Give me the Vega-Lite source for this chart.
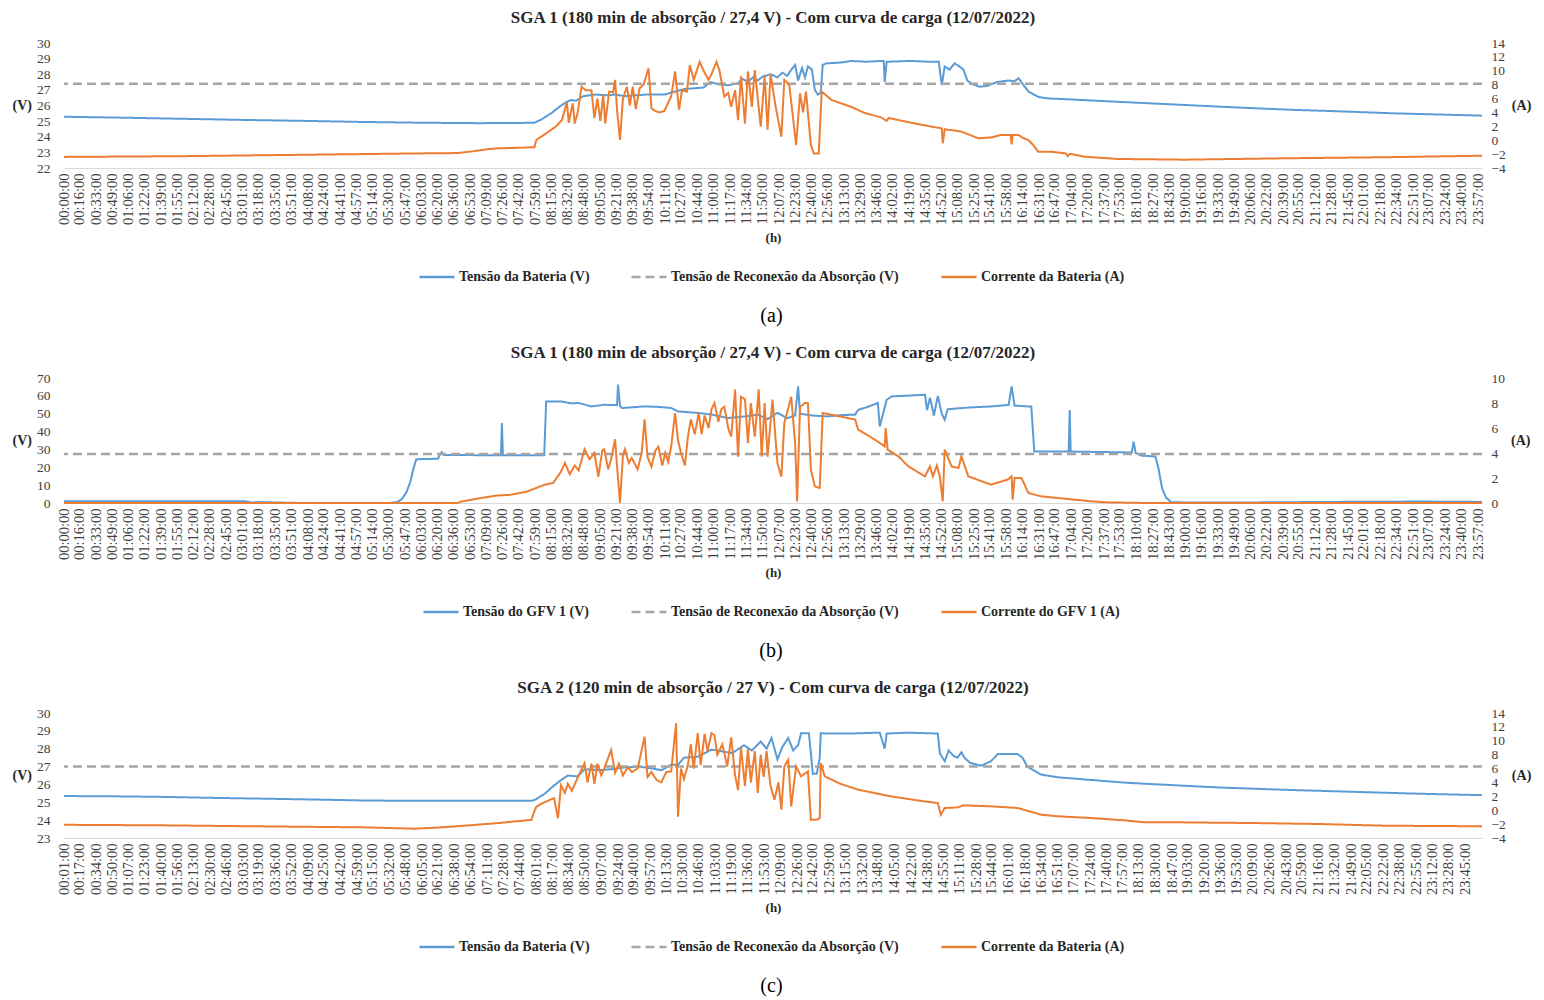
{
  "$schema": "https://vega.github.io/schema/vega-lite/v6.json",
  "background": "white",
  "padding": {"left": 12, "top": 9, "right": 5, "bottom": 2},
  "config": {
    "view": {"stroke": null},
    "font": "Liberation Serif",
    "title": {"font": "Liberation Serif", "fontSize": 17, "fontWeight": "bold", "color": "#262626", "offset": 9, "anchor": "middle"},
    "axis": {"grid": false, "ticks": false, "labelOverlap": false, "labelFont": "Liberation Serif", "labelFontSize": 13.5, "labelColor": "#404040", "titleFont": "Liberation Serif", "titleFontSize": 14, "titleFontWeight": "bold", "titleColor": "#262626"},
    "axisY": {"domain": false, "titleAngle": 0, "titleBaseline": "middle"},
    "axisX": {"domainColor": "#D9D9D9", "labelAngle": 270, "labelPadding": 5, "labelFontSize": 14.5, "titlePadding": 7, "titleFontSize": 13},
    "legend": {"orient": "bottom", "direction": "horizontal", "symbolType": "stroke", "symbolSize": 1225, "symbolStrokeWidth": 2.5, "labelFont": "Liberation Serif", "labelFontSize": 14, "labelFontWeight": "bold", "labelColor": "#262626", "labelLimit": 400, "columnPadding": 36, "labelOffset": 3, "offset": 13, "title": null, "layout": {"anchor": "middle", "bottom": {"anchor": "middle"}}}
  },
  "datasets": {
    "a_v": [{"m":0,"v":25.28},{"m":30,"v":25.25},{"m":60,"v":25.22},{"m":120,"v":25.15},{"m":180,"v":25.08},{"m":240,"v":25.02},{"m":300,"v":24.95},{"m":360,"v":24.9},{"m":420,"v":24.87},{"m":460,"v":24.88},{"m":478,"v":24.9},{"m":485,"v":25.1},{"m":495,"v":25.5},{"m":503,"v":25.9},{"m":510,"v":26.2},{"m":515,"v":26.35},{"m":520,"v":26.3},{"m":528,"v":26.6},{"m":540,"v":26.7},{"m":552,"v":26.65},{"m":560,"v":26.7},{"m":570,"v":26.6},{"m":580,"v":26.65},{"m":592,"v":26.7},{"m":600,"v":26.7},{"m":610,"v":26.7},{"m":620,"v":26.88},{"m":630,"v":27.05},{"m":640,"v":27.1},{"m":650,"v":27.15},{"m":657,"v":27.5},{"m":665,"v":27.35},{"m":675,"v":27.3},{"m":684,"v":27.4},{"m":690,"v":27.7},{"m":695,"v":27.5},{"m":700,"v":27.8},{"m":705,"v":27.6},{"m":710,"v":27.85},{"m":718,"v":28.0},{"m":725,"v":27.8},{"m":730,"v":28.1},{"m":735,"v":27.9},{"m":738,"v":28.2},{"m":743,"v":28.6},{"m":746,"v":27.6},{"m":750,"v":28.4},{"m":753,"v":27.8},{"m":756,"v":28.5},{"m":760,"v":28.3},{"m":763,"v":27.0},{"m":766,"v":26.7},{"m":769,"v":26.8},{"m":771,"v":28.6},{"m":775,"v":28.7},{"m":790,"v":28.75},{"m":800,"v":28.85},{"m":815,"v":28.8},{"m":830,"v":28.85},{"m":833,"v":28.85},{"m":834,"v":27.5},{"m":836,"v":28.8},{"m":860,"v":28.85},{"m":880,"v":28.8},{"m":889,"v":28.8},{"m":892,"v":27.3},{"m":895,"v":28.5},{"m":900,"v":28.3},{"m":905,"v":28.7},{"m":910,"v":28.5},{"m":914,"v":28.3},{"m":918,"v":27.6},{"m":922,"v":27.4},{"m":930,"v":27.2},{"m":938,"v":27.25},{"m":948,"v":27.5},{"m":960,"v":27.6},{"m":966,"v":27.55},{"m":970,"v":27.75},{"m":974,"v":27.4},{"m":980,"v":26.9},{"m":990,"v":26.55},{"m":1000,"v":26.45},{"m":1020,"v":26.4},{"m":1050,"v":26.3},{"m":1100,"v":26.15},{"m":1150,"v":26.0},{"m":1200,"v":25.85},{"m":1250,"v":25.72},{"m":1300,"v":25.62},{"m":1350,"v":25.5},{"m":1400,"v":25.42},{"m":1441,"v":25.35}],
    "a_i": [{"m":0,"i":-2.4},{"m":60,"i":-2.35},{"m":120,"i":-2.3},{"m":180,"i":-2.2},{"m":240,"i":-2.1},{"m":300,"i":-2.0},{"m":360,"i":-1.9},{"m":400,"i":-1.85},{"m":415,"i":-1.6},{"m":430,"i":-1.3},{"m":441,"i":-1.17},{"m":460,"i":-1.1},{"m":478,"i":-1.0},{"m":480,"i":0.03},{"m":490,"i":1.0},{"m":500,"i":2.0},{"m":506,"i":2.9},{"m":509,"i":4.4},{"m":511,"i":5.5},{"m":513,"i":2.5},{"m":515,"i":4.0},{"m":517,"i":5.3},{"m":519,"i":2.4},{"m":522,"i":4.0},{"m":526,"i":7.7},{"m":530,"i":7.2},{"m":536,"i":7.2},{"m":539,"i":3.2},{"m":542,"i":6.0},{"m":545,"i":2.8},{"m":548,"i":6.5},{"m":550,"i":2.4},{"m":554,"i":7.0},{"m":558,"i":6.9},{"m":560,"i":8.7},{"m":562,"i":4.4},{"m":565,"i":0.03},{"m":568,"i":6.0},{"m":572,"i":7.7},{"m":575,"i":5.0},{"m":578,"i":7.7},{"m":581,"i":4.5},{"m":585,"i":7.5},{"m":589,"i":8.0},{"m":594,"i":10.35},{"m":597,"i":4.6},{"m":601,"i":4.2},{"m":605,"i":4.0},{"m":610,"i":4.2},{"m":617,"i":6.3},{"m":621,"i":9.9},{"m":625,"i":4.4},{"m":628,"i":7.2},{"m":633,"i":7.0},{"m":636,"i":10.8},{"m":640,"i":8.7},{"m":646,"i":11.3},{"m":650,"i":10.0},{"m":655,"i":8.7},{"m":658,"i":9.5},{"m":663,"i":11.3},{"m":666,"i":10.1},{"m":671,"i":6.3},{"m":675,"i":6.8},{"m":678,"i":4.8},{"m":682,"i":7.2},{"m":685,"i":2.9},{"m":688,"i":9.2},{"m":692,"i":2.4},{"m":695,"i":9.9},{"m":699,"i":4.8},{"m":702,"i":10.1},{"m":708,"i":1.95},{"m":712,"i":9.2},{"m":715,"i":1.5},{"m":718,"i":9.5},{"m":723,"i":5.0},{"m":729,"i":0.5},{"m":732,"i":8.7},{"m":737,"i":8.0},{"m":744,"i":-0.7},{"m":748,"i":6.75},{"m":751,"i":4.0},{"m":754,"i":7.0},{"m":759,"i":-0.7},{"m":762,"i":-1.9},{"m":767,"i":-1.9},{"m":770,"i":7.0},{"m":780,"i":5.8},{"m":800,"i":4.8},{"m":814,"i":3.9},{"m":830,"i":3.3},{"m":836,"i":2.8},{"m":838,"i":3.2},{"m":848,"i":2.9},{"m":865,"i":2.4},{"m":882,"i":1.95},{"m":892,"i":1.7},{"m":893,"i":-0.44},{"m":895,"i":1.6},{"m":898,"i":1.5},{"m":905,"i":1.4},{"m":912,"i":1.23},{"m":920,"i":0.8},{"m":929,"i":0.27},{"m":942,"i":0.4},{"m":952,"i":0.75},{"m":962,"i":0.75},{"m":963,"i":-0.6},{"m":964,"i":0.75},{"m":970,"i":0.75},{"m":975,"i":0.3},{"m":980,"i":0.03},{"m":985,"i":-0.7},{"m":990,"i":-1.65},{"m":1003,"i":-1.65},{"m":1018,"i":-1.9},{"m":1020,"i":-2.3},{"m":1022,"i":-1.95},{"m":1037,"i":-2.37},{"m":1071,"i":-2.7},{"m":1139,"i":-2.8},{"m":1241,"i":-2.6},{"m":1342,"i":-2.45},{"m":1441,"i":-2.23}],
    "a_r": [{"v":27.4}],
    "b_v": [{"m":0,"v":1.0},{"m":60,"v":1.0},{"m":120,"v":1.0},{"m":184,"v":1.0},{"m":190,"v":0.3},{"m":200,"v":0.5},{"m":215,"v":0.3},{"m":230,"v":0.1},{"m":250,"v":0.0},{"m":330,"v":0.0},{"m":338,"v":0.5},{"m":343,"v":2.0},{"m":348,"v":6.0},{"m":352,"v":12.0},{"m":355,"v":19.0},{"m":358,"v":24.5},{"m":380,"v":24.8},{"m":382,"v":27.0},{"m":384,"v":28.5},{"m":386,"v":26.9},{"m":420,"v":26.8},{"m":444,"v":26.8},{"m":445,"v":44.8},{"m":446,"v":26.8},{"m":488,"v":26.8},{"m":490,"v":56.9},{"m":505,"v":56.9},{"m":515,"v":55.8},{"m":523,"v":56.0},{"m":536,"v":54.1},{"m":549,"v":55.0},{"m":562,"v":54.8},{"m":563,"v":66.3},{"m":565,"v":54.5},{"m":567,"v":53.2},{"m":590,"v":54.1},{"m":605,"v":53.8},{"m":617,"v":53.2},{"m":624,"v":51.3},{"m":645,"v":50.4},{"m":658,"v":49.5},{"m":675,"v":47.6},{"m":692,"v":48.5},{"m":705,"v":49.5},{"m":715,"v":47.0},{"m":725,"v":50.5},{"m":735,"v":47.5},{"m":743,"v":49.0},{"m":746,"v":65.3},{"m":748,"v":50.0},{"m":760,"v":49.0},{"m":775,"v":48.5},{"m":790,"v":49.2},{"m":804,"v":49.5},{"m":807,"v":52.2},{"m":815,"v":53.5},{"m":827,"v":56.0},{"m":829,"v":42.9},{"m":836,"v":57.8},{"m":841,"v":59.7},{"m":860,"v":60.2},{"m":875,"v":60.6},{"m":877,"v":52.0},{"m":880,"v":59.0},{"m":884,"v":49.0},{"m":888,"v":60.0},{"m":892,"v":50.0},{"m":895,"v":46.6},{"m":898,"v":52.5},{"m":920,"v":53.5},{"m":940,"v":54.0},{"m":960,"v":54.9},{"m":963,"v":65.3},{"m":966,"v":54.5},{"m":983,"v":54.0},{"m":986,"v":28.9},{"m":1000,"v":28.8},{"m":1021,"v":28.8},{"m":1022,"v":52.1},{"m":1023,"v":28.8},{"m":1060,"v":28.5},{"m":1085,"v":28.3},{"m":1087,"v":34.4},{"m":1089,"v":28.0},{"m":1095,"v":26.5},{"m":1109,"v":26.1},{"m":1112,"v":20.0},{"m":1116,"v":8.0},{"m":1120,"v":3.0},{"m":1125,"v":0.5},{"m":1140,"v":0.3},{"m":1200,"v":0.3},{"m":1260,"v":0.5},{"m":1320,"v":0.7},{"m":1380,"v":0.8},{"m":1441,"v":0.6}],
    "b_i": [{"m":0,"i":0.0},{"m":400,"i":0.0},{"m":403,"i":0.1},{"m":420,"i":0.35},{"m":440,"i":0.6},{"m":453,"i":0.65},{"m":470,"i":0.9},{"m":488,"i":1.45},{"m":497,"i":1.6},{"m":505,"i":2.5},{"m":509,"i":3.2},{"m":514,"i":2.3},{"m":519,"i":3.0},{"m":523,"i":2.6},{"m":529,"i":4.3},{"m":534,"i":3.5},{"m":539,"i":4.0},{"m":543,"i":2.1},{"m":547,"i":4.2},{"m":549,"i":4.3},{"m":553,"i":2.7},{"m":556,"i":3.5},{"m":560,"i":5.1},{"m":562,"i":3.0},{"m":565,"i":0.0},{"m":568,"i":3.8},{"m":570,"i":4.3},{"m":574,"i":3.2},{"m":577,"i":3.6},{"m":583,"i":2.7},{"m":587,"i":4.0},{"m":590,"i":6.7},{"m":593,"i":3.7},{"m":597,"i":2.9},{"m":601,"i":4.2},{"m":604,"i":4.5},{"m":608,"i":3.0},{"m":611,"i":4.0},{"m":614,"i":3.3},{"m":617,"i":4.5},{"m":621,"i":7.2},{"m":624,"i":5.0},{"m":627,"i":4.0},{"m":631,"i":3.0},{"m":634,"i":5.3},{"m":637,"i":6.7},{"m":641,"i":5.5},{"m":645,"i":7.2},{"m":648,"i":5.5},{"m":651,"i":7.0},{"m":655,"i":6.0},{"m":658,"i":7.5},{"m":661,"i":8.0},{"m":665,"i":6.5},{"m":668,"i":7.5},{"m":671,"i":7.7},{"m":675,"i":6.0},{"m":678,"i":5.3},{"m":682,"i":9.07},{"m":685,"i":3.7},{"m":688,"i":8.5},{"m":692,"i":8.3},{"m":695,"i":4.8},{"m":698,"i":8.0},{"m":702,"i":5.3},{"m":706,"i":9.07},{"m":709,"i":3.7},{"m":712,"i":8.0},{"m":715,"i":3.7},{"m":720,"i":8.27},{"m":725,"i":3.2},{"m":729,"i":2.1},{"m":732,"i":6.4},{"m":739,"i":8.5},{"m":743,"i":4.8},{"m":745,"i":0.13},{"m":748,"i":7.7},{"m":753,"i":8.0},{"m":756,"i":8.0},{"m":759,"i":2.67},{"m":763,"i":1.33},{"m":768,"i":1.2},{"m":771,"i":7.2},{"m":790,"i":6.9},{"m":804,"i":6.67},{"m":807,"i":5.87},{"m":824,"i":5.07},{"m":834,"i":4.53},{"m":835,"i":6.0},{"m":837,"i":4.27},{"m":848,"i":3.73},{"m":858,"i":2.93},{"m":875,"i":2.13},{"m":880,"i":2.93},{"m":883,"i":2.13},{"m":887,"i":3.0},{"m":890,"i":2.13},{"m":893,"i":0.13},{"m":895,"i":4.27},{"m":902,"i":2.93},{"m":909,"i":2.8},{"m":912,"i":3.73},{"m":919,"i":2.13},{"m":942,"i":1.47},{"m":959,"i":1.87},{"m":963,"i":2.13},{"m":964,"i":0.27},{"m":966,"i":2.0},{"m":973,"i":2.0},{"m":980,"i":0.8},{"m":993,"i":0.53},{"m":1010,"i":0.4},{"m":1027,"i":0.27},{"m":1044,"i":0.13},{"m":1061,"i":0.05},{"m":1100,"i":0.0},{"m":1441,"i":0.0}],
    "b_r": [{"v":27.4}],
    "c_v": [{"m":1,"v":25.35},{"m":60,"v":25.33},{"m":104,"v":25.3},{"m":150,"v":25.25},{"m":206,"v":25.2},{"m":260,"v":25.15},{"m":307,"v":25.1},{"m":360,"v":25.08},{"m":441,"v":25.08},{"m":476,"v":25.08},{"m":480,"v":25.15},{"m":490,"v":25.5},{"m":496,"v":25.8},{"m":505,"v":26.2},{"m":513,"v":26.5},{"m":523,"v":26.45},{"m":530,"v":26.85},{"m":545,"v":26.8},{"m":557,"v":26.85},{"m":570,"v":26.95},{"m":585,"v":27.0},{"m":598,"v":26.9},{"m":608,"v":26.8},{"m":618,"v":27.1},{"m":625,"v":27.1},{"m":631,"v":27.5},{"m":645,"v":27.55},{"m":659,"v":27.95},{"m":670,"v":27.85},{"m":680,"v":27.75},{"m":692,"v":28.2},{"m":700,"v":27.9},{"m":709,"v":28.4},{"m":715,"v":28.0},{"m":720,"v":28.6},{"m":726,"v":27.4},{"m":731,"v":28.1},{"m":737,"v":28.6},{"m":742,"v":27.9},{"m":747,"v":28.2},{"m":750,"v":28.86},{"m":758,"v":28.86},{"m":762,"v":26.6},{"m":766,"v":26.6},{"m":769,"v":27.5},{"m":770,"v":28.86},{"m":800,"v":28.85},{"m":830,"v":28.9},{"m":835,"v":28.0},{"m":837,"v":28.85},{"m":860,"v":28.9},{"m":889,"v":28.85},{"m":891,"v":27.75},{"m":896,"v":27.3},{"m":900,"v":27.9},{"m":905,"v":27.6},{"m":909,"v":27.5},{"m":913,"v":27.8},{"m":916,"v":27.5},{"m":922,"v":27.2},{"m":929,"v":27.1},{"m":933,"v":27.05},{"m":943,"v":27.3},{"m":950,"v":27.7},{"m":970,"v":27.7},{"m":975,"v":27.5},{"m":980,"v":27.0},{"m":994,"v":26.55},{"m":1011,"v":26.4},{"m":1045,"v":26.25},{"m":1079,"v":26.1},{"m":1106,"v":26.02},{"m":1174,"v":25.83},{"m":1241,"v":25.7},{"m":1309,"v":25.59},{"m":1377,"v":25.48},{"m":1442,"v":25.4}],
    "c_i": [{"m":1,"i":-2.1},{"m":104,"i":-2.18},{"m":206,"i":-2.33},{"m":307,"i":-2.47},{"m":357,"i":-2.66},{"m":381,"i":-2.5},{"m":408,"i":-2.23},{"m":442,"i":-1.85},{"m":459,"i":-1.61},{"m":476,"i":-1.4},{"m":478,"i":-0.5},{"m":481,"i":0.5},{"m":487,"i":1.0},{"m":499,"i":1.75},{"m":503,"i":-1.16},{"m":506,"i":3.6},{"m":510,"i":2.5},{"m":513,"i":3.8},{"m":517,"i":2.8},{"m":525,"i":5.3},{"m":530,"i":6.75},{"m":533,"i":4.0},{"m":537,"i":6.7},{"m":540,"i":3.8},{"m":543,"i":6.7},{"m":547,"i":5.0},{"m":550,"i":6.0},{"m":557,"i":8.67},{"m":561,"i":5.4},{"m":565,"i":6.7},{"m":569,"i":5.0},{"m":574,"i":6.2},{"m":578,"i":5.5},{"m":584,"i":6.0},{"m":591,"i":10.6},{"m":594,"i":4.8},{"m":598,"i":5.5},{"m":603,"i":4.4},{"m":608,"i":4.0},{"m":613,"i":5.5},{"m":618,"i":5.6},{"m":623,"i":12.5},{"m":625,"i":-0.93},{"m":628,"i":6.0},{"m":631,"i":4.5},{"m":635,"i":6.5},{"m":638,"i":9.5},{"m":641,"i":6.0},{"m":645,"i":11.1},{"m":648,"i":6.5},{"m":652,"i":11.0},{"m":655,"i":8.5},{"m":659,"i":11.1},{"m":662,"i":10.8},{"m":665,"i":8.0},{"m":670,"i":9.5},{"m":675,"i":6.3},{"m":679,"i":10.5},{"m":683,"i":5.0},{"m":686,"i":2.9},{"m":689,"i":9.0},{"m":693,"i":3.5},{"m":696,"i":8.8},{"m":699,"i":4.0},{"m":703,"i":8.5},{"m":706,"i":2.5},{"m":709,"i":8.0},{"m":712,"i":4.8},{"m":715,"i":8.5},{"m":719,"i":3.5},{"m":723,"i":1.5},{"m":727,"i":4.0},{"m":730,"i":0.08},{"m":733,"i":6.3},{"m":737,"i":7.28},{"m":740,"i":0.56},{"m":745,"i":6.3},{"m":750,"i":4.88},{"m":757,"i":5.58},{"m":760,"i":-1.36},{"m":766,"i":-1.36},{"m":769,"i":-1.12},{"m":770,"i":6.8},{"m":774,"i":4.88},{"m":790,"i":3.8},{"m":808,"i":2.96},{"m":841,"i":2.0},{"m":875,"i":1.28},{"m":889,"i":1.04},{"m":892,"i":-0.64},{"m":896,"i":0.32},{"m":909,"i":0.4},{"m":915,"i":0.7},{"m":943,"i":0.56},{"m":970,"i":0.32},{"m":994,"i":-0.64},{"m":1011,"i":-0.88},{"m":1045,"i":-1.12},{"m":1079,"i":-1.46},{"m":1099,"i":-1.74},{"m":1133,"i":-1.74},{"m":1174,"i":-1.8},{"m":1208,"i":-1.84},{"m":1275,"i":-1.98},{"m":1343,"i":-2.23},{"m":1442,"i":-2.31}],
    "c_r": [{"v":27}]
  },
  "spacing": 18,
  "resolve": {"scale": {"color": "independent", "strokeDash": "independent"}},
  "vconcat": [
    {
      "title": {"text": "(a)", "orient": "bottom", "anchor": "middle", "fontSize": 20, "fontWeight": "normal", "color": "#000000", "offset": 22},
      "vconcat": [{
        "title": {"text": "SGA 1 (180 min de absorção / 27,4 V) - Com curva de carga (12/07/2022)"},
        "width": 1418, "height": 125,
        "resolve": {"scale": {"y": "independent"}},
        "layer": [
          {"layer": [
            {"data": {"name": "a_v"}, "mark": {"type": "line", "strokeWidth": 2},
             "encoding": {
               "x": {"field": "m", "type": "quantitative", "scale": {"domain": [0, 1441], "nice": false, "zero": false}, "axis": {"title": "(h)", "labelOverlap": false, "values": [0,16,33,49,66,82,99,115,132,148,165,181,198,215,231,248,264,281,297,314,330,347,363,380,396,413,429,446,462,479,495,512,528,545,561,578,594,611,627,644,660,677,694,710,727,743,760,776,793,809,826,842,859,875,892,908,925,941,958,974,991,1007,1024,1040,1057,1073,1090,1107,1123,1140,1156,1173,1189,1206,1222,1239,1255,1272,1288,1305,1321,1338,1354,1371,1387,1404,1420,1437], "labelExpr": "utcFormat(datum.value * 60000, '%H:%M:%S')"}},
               "y": {"field": "v", "type": "quantitative", "scale": {"domain": [22, 30], "nice": false, "zero": false}, "axis": {"title": "(V)", "labelOverlap": false, "values": [22,23,24,25,26,27,28,29,30], "labelPadding": 14, "titlePadding": 5, "titleAlign": "right"}},
               "color": {"datum": "Tensão da Bateria (V)", "scale": {"domain": ["Tensão da Bateria (V)", "Tensão de Reconexão da Absorção (V)", "Corrente da Bateria (A)"], "range": ["#5B9BD5", "#A5A5A5", "#ED7D31"]}},
               "strokeDash": {"datum": "Tensão da Bateria (V)", "scale": {"domain": ["Tensão da Bateria (V)", "Tensão de Reconexão da Absorção (V)", "Corrente da Bateria (A)"], "range": [[1, 0], [9, 5], [1, 0]]}}
             }},
            {"data": {"name": "a_r"}, "mark": {"type": "rule", "strokeWidth": 2.5},
             "encoding": {
               "y": {"field": "v", "type": "quantitative", "scale": {"domain": [22, 30], "nice": false, "zero": false}, "axis": {"title": "(V)", "labelOverlap": false, "values": [22,23,24,25,26,27,28,29,30], "labelPadding": 14, "titlePadding": 5, "titleAlign": "right"}},
               "color": {"datum": "Tensão de Reconexão da Absorção (V)"},
               "strokeDash": {"datum": "Tensão de Reconexão da Absorção (V)"}
             }}
          ]},
          {"data": {"name": "a_i"}, "mark": {"type": "line", "strokeWidth": 2},
           "encoding": {
             "x": {"field": "m", "type": "quantitative", "scale": {"domain": [0, 1441], "nice": false, "zero": false}, "axis": {"title": "(h)", "labelOverlap": false, "values": [0,16,33,49,66,82,99,115,132,148,165,181,198,215,231,248,264,281,297,314,330,347,363,380,396,413,429,446,462,479,495,512,528,545,561,578,594,611,627,644,660,677,694,710,727,743,760,776,793,809,826,842,859,875,892,908,925,941,958,974,991,1007,1024,1040,1057,1073,1090,1107,1123,1140,1156,1173,1189,1206,1222,1239,1255,1272,1288,1305,1321,1338,1354,1371,1387,1404,1420,1437], "labelExpr": "utcFormat(datum.value * 60000, '%H:%M:%S')"}},
             "y": {"field": "i", "type": "quantitative", "scale": {"domain": [-4, 14], "nice": false, "zero": false}, "axis": {"orient": "right", "title": "(A)", "labelOverlap": false, "values": [-4,-2,0,2,4,6,8,10,12,14], "labelPadding": 9, "titlePadding": 6, "titleAlign": "left"}},
             "color": {"datum": "Corrente da Bateria (A)"},
             "strokeDash": {"datum": "Corrente da Bateria (A)"}
           }}
        ]
      }]
    },
    {
      "title": {"text": "(b)", "orient": "bottom", "anchor": "middle", "fontSize": 20, "fontWeight": "normal", "color": "#000000", "offset": 22},
      "vconcat": [{
        "title": {"text": "SGA 1 (180 min de absorção / 27,4 V) - Com curva de carga (12/07/2022)"},
        "width": 1418, "height": 125,
        "resolve": {"scale": {"y": "independent"}},
        "layer": [
          {"layer": [
            {"data": {"name": "b_v"}, "mark": {"type": "line", "strokeWidth": 2},
             "encoding": {
               "x": {"field": "m", "type": "quantitative", "scale": {"domain": [0, 1441], "nice": false, "zero": false}, "axis": {"title": "(h)", "labelOverlap": false, "values": [0,16,33,49,66,82,99,115,132,148,165,181,198,215,231,248,264,281,297,314,330,347,363,380,396,413,429,446,462,479,495,512,528,545,561,578,594,611,627,644,660,677,694,710,727,743,760,776,793,809,826,842,859,875,892,908,925,941,958,974,991,1007,1024,1040,1057,1073,1090,1107,1123,1140,1156,1173,1189,1206,1222,1239,1255,1272,1288,1305,1321,1338,1354,1371,1387,1404,1420,1437], "labelExpr": "utcFormat(datum.value * 60000, '%H:%M:%S')"}},
               "y": {"field": "v", "type": "quantitative", "scale": {"domain": [0, 70], "nice": false, "zero": false}, "axis": {"title": "(V)", "labelOverlap": false, "values": [0,10,20,30,40,50,60,70], "labelPadding": 14, "titlePadding": 5, "titleAlign": "right"}},
               "color": {"datum": "Tensão do GFV 1 (V)", "scale": {"domain": ["Tensão do GFV 1 (V)", "Tensão de Reconexão da Absorção (V)", "Corrente do GFV 1 (A)"], "range": ["#5B9BD5", "#A5A5A5", "#ED7D31"]}},
               "strokeDash": {"datum": "Tensão do GFV 1 (V)", "scale": {"domain": ["Tensão do GFV 1 (V)", "Tensão de Reconexão da Absorção (V)", "Corrente do GFV 1 (A)"], "range": [[1, 0], [9, 5], [1, 0]]}}
             }},
            {"data": {"name": "b_r"}, "mark": {"type": "rule", "strokeWidth": 2.5},
             "encoding": {
               "y": {"field": "v", "type": "quantitative", "scale": {"domain": [0, 70], "nice": false, "zero": false}, "axis": {"title": "(V)", "labelOverlap": false, "values": [0,10,20,30,40,50,60,70], "labelPadding": 14, "titlePadding": 5, "titleAlign": "right"}},
               "color": {"datum": "Tensão de Reconexão da Absorção (V)"},
               "strokeDash": {"datum": "Tensão de Reconexão da Absorção (V)"}
             }}
          ]},
          {"data": {"name": "b_i"}, "mark": {"type": "line", "strokeWidth": 2},
           "encoding": {
             "x": {"field": "m", "type": "quantitative", "scale": {"domain": [0, 1441], "nice": false, "zero": false}, "axis": {"title": "(h)", "labelOverlap": false, "values": [0,16,33,49,66,82,99,115,132,148,165,181,198,215,231,248,264,281,297,314,330,347,363,380,396,413,429,446,462,479,495,512,528,545,561,578,594,611,627,644,660,677,694,710,727,743,760,776,793,809,826,842,859,875,892,908,925,941,958,974,991,1007,1024,1040,1057,1073,1090,1107,1123,1140,1156,1173,1189,1206,1222,1239,1255,1272,1288,1305,1321,1338,1354,1371,1387,1404,1420,1437], "labelExpr": "utcFormat(datum.value * 60000, '%H:%M:%S')"}},
             "y": {"field": "i", "type": "quantitative", "scale": {"domain": [0, 10], "nice": false, "zero": false}, "axis": {"orient": "right", "title": "(A)", "labelOverlap": false, "values": [0,2,4,6,8,10], "labelPadding": 9, "titlePadding": 6, "titleAlign": "left"}},
             "color": {"datum": "Corrente do GFV 1 (A)"},
             "strokeDash": {"datum": "Corrente do GFV 1 (A)"}
           }}
        ]
      }]
    },
    {
      "title": {"text": "(c)", "orient": "bottom", "anchor": "middle", "fontSize": 20, "fontWeight": "normal", "color": "#000000", "offset": 22},
      "vconcat": [{
        "title": {"text": "SGA 2 (120 min de absorção / 27 V) - Com curva de carga (12/07/2022)"},
        "width": 1418, "height": 125,
        "resolve": {"scale": {"y": "independent"}},
        "layer": [
          {"layer": [
            {"data": {"name": "c_v"}, "mark": {"type": "line", "strokeWidth": 2},
             "encoding": {
               "x": {"field": "m", "type": "quantitative", "scale": {"domain": [1, 1442], "nice": false, "zero": false}, "axis": {"title": "(h)", "labelOverlap": false, "values": [1,17,34,50,67,83,100,116,133,150,166,183,199,216,232,249,265,282,299,315,332,348,365,381,398,414,431,448,464,481,497,514,530,547,564,580,597,613,630,646,663,679,696,713,729,746,762,779,795,812,828,845,862,878,895,911,928,944,961,978,994,1011,1027,1044,1060,1077,1093,1110,1127,1143,1160,1176,1193,1209,1226,1243,1259,1276,1292,1309,1325,1342,1358,1375,1392,1408,1425], "labelExpr": "utcFormat(datum.value * 60000, '%H:%M:%S')"}},
               "y": {"field": "v", "type": "quantitative", "scale": {"domain": [23, 30], "nice": false, "zero": false}, "axis": {"title": "(V)", "labelOverlap": false, "values": [23,24,25,26,27,28,29,30], "labelPadding": 14, "titlePadding": 5, "titleAlign": "right"}},
               "color": {"datum": "Tensão da Bateria (V)", "scale": {"domain": ["Tensão da Bateria (V)", "Tensão de Reconexão da Absorção (V)", "Corrente da Bateria (A)"], "range": ["#5B9BD5", "#A5A5A5", "#ED7D31"]}},
               "strokeDash": {"datum": "Tensão da Bateria (V)", "scale": {"domain": ["Tensão da Bateria (V)", "Tensão de Reconexão da Absorção (V)", "Corrente da Bateria (A)"], "range": [[1, 0], [9, 5], [1, 0]]}}
             }},
            {"data": {"name": "c_r"}, "mark": {"type": "rule", "strokeWidth": 2.5},
             "encoding": {
               "y": {"field": "v", "type": "quantitative", "scale": {"domain": [23, 30], "nice": false, "zero": false}, "axis": {"title": "(V)", "labelOverlap": false, "values": [23,24,25,26,27,28,29,30], "labelPadding": 14, "titlePadding": 5, "titleAlign": "right"}},
               "color": {"datum": "Tensão de Reconexão da Absorção (V)"},
               "strokeDash": {"datum": "Tensão de Reconexão da Absorção (V)"}
             }}
          ]},
          {"data": {"name": "c_i"}, "mark": {"type": "line", "strokeWidth": 2},
           "encoding": {
             "x": {"field": "m", "type": "quantitative", "scale": {"domain": [1, 1442], "nice": false, "zero": false}, "axis": {"title": "(h)", "labelOverlap": false, "values": [1,17,34,50,67,83,100,116,133,150,166,183,199,216,232,249,265,282,299,315,332,348,365,381,398,414,431,448,464,481,497,514,530,547,564,580,597,613,630,646,663,679,696,713,729,746,762,779,795,812,828,845,862,878,895,911,928,944,961,978,994,1011,1027,1044,1060,1077,1093,1110,1127,1143,1160,1176,1193,1209,1226,1243,1259,1276,1292,1309,1325,1342,1358,1375,1392,1408,1425], "labelExpr": "utcFormat(datum.value * 60000, '%H:%M:%S')"}},
             "y": {"field": "i", "type": "quantitative", "scale": {"domain": [-4, 14], "nice": false, "zero": false}, "axis": {"orient": "right", "title": "(A)", "labelOverlap": false, "values": [-4,-2,0,2,4,6,8,10,12,14], "labelPadding": 9, "titlePadding": 6, "titleAlign": "left"}},
             "color": {"datum": "Corrente da Bateria (A)"},
             "strokeDash": {"datum": "Corrente da Bateria (A)"}
           }}
        ]
      }]
    }
  ]
}
